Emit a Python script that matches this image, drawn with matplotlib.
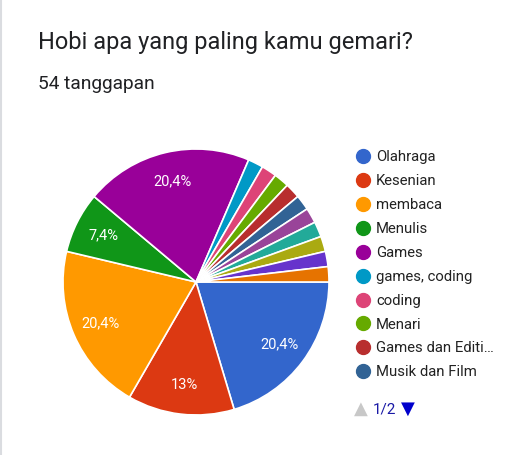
import matplotlib.pyplot as plt
from matplotlib.lines import Line2D

# data: 54 responses
labels = ['Olahraga', 'Kesenian', 'membaca', 'Menulis', 'Games',
          'games, coding', 'coding', 'Menari', 'Games dan Editi…', 'Musik dan Film']
counts = [11, 7, 11, 4, 11, 1, 1, 1, 1, 1, 1, 1, 1, 1, 1]
colors = ['#3366CC', '#DC3912', '#FF9900', '#109618', '#990099',
          '#0099C6', '#DD4477', '#66AA00', '#B82E2E', '#316395',
          '#994499', '#22AA99', '#AAAA11', '#6633CC', '#E67300']
title = 'Hobi apa yang paling kamu gemari?'
subtitle = '54 tanggapan'

plt.rcParams['font.family'] = ['Roboto', 'DejaVu Sans']

fig = plt.figure(figsize=(5.27, 4.55), dpi=100)
fig.patch.set_facecolor('white')

# card border on the left
fig.add_artist(Line2D([0.002, 0.002], [0, 1], color='#dadce0', lw=1.5))

fig.text(38 / 527, 1 - 42 / 455, title, fontsize=17, color='#202124', va='center')
fig.text(38 / 527, 1 - 84 / 455, subtitle, fontsize=13.8, color='#202124', va='center')


def fmt(p):
    if p < 5:
        return ''
    return ('%.1f' % p).replace('.0', '').replace('.', ',') + '%'


ax = fig.add_axes([63 / 527, 40 / 455, 266 / 527, 266 / 455])
wedges, texts, autotexts = ax.pie(counts, colors=colors, startangle=0, counterclock=False,
                                  autopct=fmt, pctdistance=0.78, radius=1,
                                  wedgeprops=dict(edgecolor='white', linewidth=1.2),
                                  textprops=dict(color='white', fontsize=10.5))
ax.set_xlim(-1, 1)
ax.set_ylim(-1, 1)
ax.set_aspect('auto')
ax.axis('off')

handles = [Line2D([], [], marker='o', linestyle='', markersize=10,
                  markerfacecolor=colors[i], markeredgecolor=colors[i])
           for i in range(len(labels))]
leg = fig.legend(handles, labels, loc='upper left', bbox_to_anchor=(347 / 527, 1 - 143 / 455),
                 frameon=False, fontsize=10.7, handletextpad=0.25, labelspacing=0.665,
                 handlelength=1.2, borderpad=0)
for t in leg.get_texts():
    t.set_color('#222222')

# pager
fig.text(361 / 527, 1 - 409 / 455, '▲', fontsize=13, color='#c8c8c8', ha='center', va='center',
         family='DejaVu Sans')
fig.text(385 / 527, 1 - 409 / 455, '1/2', fontsize=11, color='#1a1aa6', ha='center', va='center')
fig.text(408 / 527, 1 - 409 / 455, '▼', fontsize=13, color='#0000cc', ha='center', va='center',
         family='DejaVu Sans')

plt.savefig('out.png', dpi=100)
